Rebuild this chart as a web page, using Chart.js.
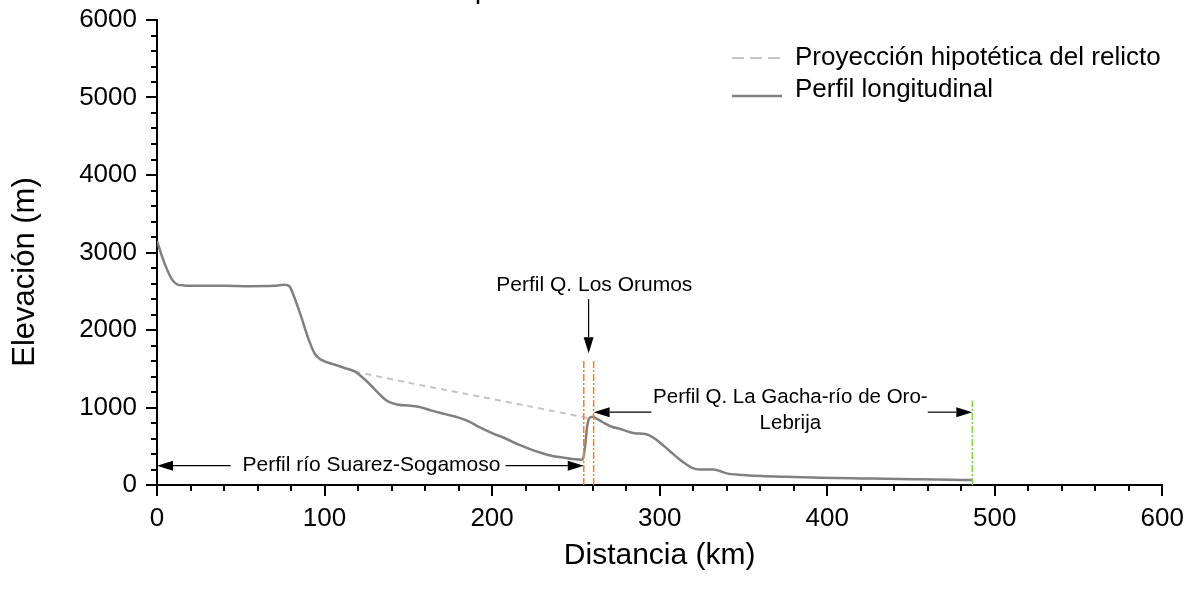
<!DOCTYPE html>
<html>
<head>
<meta charset="utf-8">
<script src="https://cdn.jsdelivr.net/npm/chart.js@4.4.1/dist/chart.umd.min.js"></script>
<style>
  html, body { margin: 0; padding: 0; background: #fff; }
  #wrap { width: 1202px; height: 606px; }
</style>
</head>
<body>
<div id="wrap"><canvas id="grafik" width="1202" height="606"></canvas></div>
<script>
// perfil longitudinal (km, m)
const distProfile = [0, 3, 6, 9, 12, 16, 25, 40, 55, 70, 76, 79, 82, 85, 88, 91, 94, 97, 100, 105, 112, 118, 123, 127, 132, 137, 144, 150, 156, 164, 172, 180, 186, 193, 200, 208, 216, 223, 230, 236, 242, 248, 254, 255.5, 256.7, 258, 260, 262, 266, 271, 277, 285, 292, 297, 303, 307, 311, 315, 319, 324, 332, 336, 340, 350, 361, 375, 391, 405, 420, 435, 450, 465, 480, 487];
const elevProfile = [3150, 2950, 2780, 2650, 2590, 2575, 2570, 2570, 2565, 2570, 2585, 2565, 2420, 2240, 2040, 1850, 1700, 1630, 1595, 1560, 1510, 1465, 1380, 1300, 1190, 1090, 1035, 1025, 1010, 960, 915, 870, 820, 740, 670, 600, 520, 460, 410, 375, 355, 335, 325, 500, 752, 860, 880, 860, 810, 755, 720, 668, 655, 600, 495, 420, 345, 280, 225, 200, 200, 180, 150, 130, 115, 105, 97, 90, 85, 80, 75, 70, 66, 64];

// proyeccion hipotetica del relicto
const distRelict = [118, 150, 182, 220, 258];
const elevRelict = [1465, 1320, 1185, 1025, 860];

// limites de los perfiles
const limitOrumos = [254.7, 260.6];
const limitLebrija = 486.6;
const limitTopOrange = 1610;
const limitTopGreen = 1090;

const xTicks = [0, 100, 200, 300, 400, 500, 600];
const yTicks = [0, 1000, 2000, 3000, 4000, 5000, 6000];

const FONT = '"Liberation Sans", Arial, sans-serif';

function toPoints(xs, ys) {
    return xs.map((x, i) => ({ x: x, y: ys[i] }));
}

function vline(x, top, color) {
    return {
        label: '',
        data: [{ x: x, y: 0 }, { x: x, y: top }],
        showLine: true,
        borderColor: color,
        borderWidth: 1.5,
        borderDash: [7, 2, 2, 2],
        pointRadius: 0,
        fill: false
    };
}

// ticks, titulos, leyenda y flechas
const decor = {
    id: 'decor',
    afterDraw(chart) {
        const ctx = chart.ctx;
        const xs = chart.scales.x;
        const ys = chart.scales.y;
        const ca = chart.chartArea;
        ctx.save();

        // ticks mayores y menores
        ctx.strokeStyle = '#000';
        ctx.lineWidth = 2;
        for (let v = 0; v <= 600; v += 20) {
            const px = Math.round(xs.getPixelForValue(v));
            const len = v % 100 === 0 ? 11 : 6;
            ctx.beginPath();
            ctx.moveTo(px, ca.bottom);
            ctx.lineTo(px, ca.bottom + len);
            ctx.stroke();
        }
        for (let v = 0; v <= 6000; v += 200) {
            const py = Math.round(ys.getPixelForValue(v));
            const len = v % 1000 === 0 ? 11 : 6;
            ctx.beginPath();
            ctx.moveTo(ca.left, py);
            ctx.lineTo(ca.left - len, py);
            ctx.stroke();
        }

        // titulos de ejes
        ctx.fillStyle = '#000';
        ctx.font = '30px ' + FONT;
        ctx.textAlign = 'center';
        ctx.textBaseline = 'middle';
        ctx.fillText('Distancia (km)', (ca.left + ca.right) / 2, 556);
        ctx.save();
        ctx.translate(25, 272);
        ctx.rotate(-Math.PI / 2);
        ctx.font = '31px ' + FONT;
        ctx.fillText('Elevación (m)', 0, 0);
        ctx.restore();

        // titulo cortado arriba
        ctx.font = 'bold 18px ' + FONT;
        ctx.textBaseline = 'alphabetic';
        ctx.fillText('quebrada La Gacha', 553, 0);

        // leyenda
        const ds = chart.data.datasets;
        ctx.textAlign = 'left';
        ctx.font = '26px ' + FONT;
        ctx.textBaseline = 'middle';
        ctx.lineWidth = 2;
        ctx.strokeStyle = ds[1].borderColor;
        ctx.setLineDash([12, 6]);
        ctx.beginPath();
        ctx.moveTo(732, 58);
        ctx.lineTo(780, 58);
        ctx.stroke();
        ctx.setLineDash([]);
        ctx.strokeStyle = ds[0].borderColor;
        ctx.lineWidth = 2.5;
        ctx.beginPath();
        ctx.moveTo(732, 96);
        ctx.lineTo(782, 96);
        ctx.stroke();
        ctx.fillText(ds[1].label, 795, 58);
        ctx.fillText(ds[0].label, 795, 90);

        // flechas
        function arrow(x1, y1, x2, y2) {
            const a = Math.atan2(y2 - y1, x2 - x1);
            const hl = 16, hw = 5;
            ctx.strokeStyle = '#000';
            ctx.fillStyle = '#000';
            ctx.lineWidth = 1.2;
            ctx.beginPath();
            ctx.moveTo(x1, y1);
            ctx.lineTo(x2 - Math.cos(a) * hl, y2 - Math.sin(a) * hl);
            ctx.stroke();
            ctx.beginPath();
            ctx.moveTo(x2, y2);
            ctx.lineTo(x2 - Math.cos(a) * hl - Math.sin(a) * hw, y2 - Math.sin(a) * hl + Math.cos(a) * hw);
            ctx.lineTo(x2 - Math.cos(a) * hl + Math.sin(a) * hw, y2 - Math.sin(a) * hl - Math.cos(a) * hw);
            ctx.closePath();
            ctx.fill();
        }
        const X = v => xs.getPixelForValue(v);
        const Y = v => ys.getPixelForValue(v);

        ctx.font = '21px ' + FONT;
        ctx.textAlign = 'center';
        ctx.fillStyle = '#000';

        // Suarez-Sogamoso
        const yS = Y(250);
        ctx.fillText('Perfil río Suarez-Sogamoso', X(128), yS);
        arrow(X(44), yS, X(0), yS);
        arrow(X(208), yS, X(limitOrumos[0]), yS);

        // Los Orumos
        ctx.fillStyle = '#000';
        ctx.fillText('Perfil Q. Los Orumos', X(261), Y(2580));
        arrow(X(257.6), Y(2400), X(257.6), Y(1700));

        // La Gacha - Oro - Lebrija
        const yG = Y(940);
        ctx.fillStyle = '#000';
        ctx.font = '20.5px ' + FONT;
        ctx.fillText('Perfil Q. La Gacha-río de Oro-', X(378), Y(1130));
        ctx.fillText('Lebrija', X(378), Y(800));
        arrow(X(295), yG, X(limitOrumos[1]), yG);
        arrow(X(460), yG, X(limitLebrija), yG);

        ctx.restore();
    }
};

const config = {
    type: 'scatter',
    data: {
        datasets: [
            {
                label: 'Perfil longitudinal',
                data: toPoints(distProfile, elevProfile),
                showLine: true,
                borderColor: '#808080',
                borderWidth: 2.5,
                pointRadius: 0,
                cubicInterpolationMode: 'monotone',
                order: 1
            },
            {
                label: 'Proyección hipotética del relicto',
                data: toPoints(distRelict, elevRelict),
                showLine: true,
                borderColor: '#c4c4c4',
                borderWidth: 2,
                borderDash: [6, 5],
                pointRadius: 0,
                tension: 0.3,
                order: 2
            },
            vline(limitOrumos[0], limitTopOrange, '#ff8010'),
            vline(limitOrumos[1], limitTopOrange, '#ff8010'),
            vline(limitLebrija, limitTopGreen, '#7ed83a')
        ]
    },
    options: {
        responsive: false,
        animation: false,
        layout: { padding: { top: 20, right: 38, bottom: 0, left: 0 } },
        plugins: {
            legend: { display: false },
            tooltip: { enabled: false }
        },
        scales: {
            x: {
                type: 'linear',
                min: 0,
                max: 600,
                afterBuildTicks: s => { s.ticks = xTicks.map(v => ({ value: v })); },
                afterFit: s => { s.height = 121; },
                grid: { display: false, drawTicks: false },
                border: { display: true, color: '#000', width: 2 },
                ticks: {
                    padding: 18,
                    color: '#000',
                    font: { family: FONT, size: 26 },
                    maxRotation: 0,
                    callback: v => String(v)
                }
            },
            y: {
                type: 'linear',
                min: 0,
                max: 6000,
                afterBuildTicks: s => { s.ticks = yTicks.map(v => ({ value: v })); },
                afterFit: s => { s.width = 157; s.paddingTop = 0; s.paddingBottom = 0; },
                grid: { display: false, drawTicks: false },
                border: { display: true, color: '#000', width: 2 },
                ticks: {
                    padding: 20,
                    color: '#000',
                    font: { family: FONT, size: 26 },
                    callback: v => String(v)
                }
            }
        }
    },
    plugins: [decor]
};

const myChart = new Chart(document.getElementById('grafik'), config);
</script>
</body>
</html>
